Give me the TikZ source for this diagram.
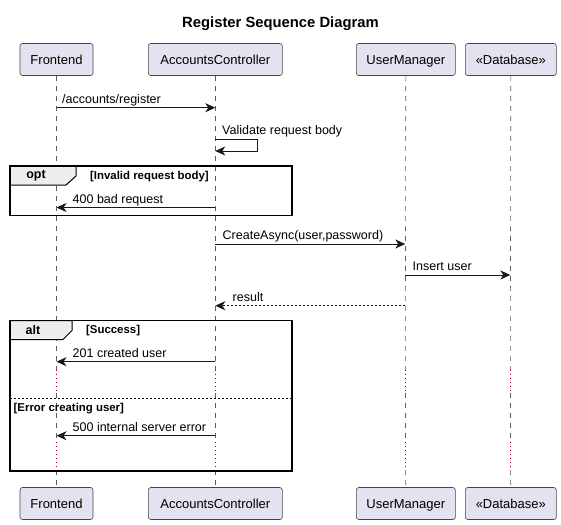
\documentclass[tikz,border=0pt]{standalone}
\usepackage{fontspec}
\setmainfont{Liberation Sans}
\usetikzlibrary{arrows.meta}
\definecolor{partfill}{HTML}{E2E2F0}
\definecolor{ink}{HTML}{181818}
\definecolor{delaycol}{HTML}{A80036}
\definecolor{tabfill}{HTML}{EEEEEE}
\tikzset{
  part/.style={draw=ink!80, fill=partfill, rounded corners=2.5pt, line width=0.6pt,
    minimum height=32pt, inner sep=0pt, text height=11.5pt, text depth=1pt,
    font=\fontsize{13}{15}\selectfont},
  lifeline/.style={draw=ink!70, line width=0.6pt, dash pattern=on 5pt off 5pt},
  delayline/.style={draw=delaycol, line width=0.8pt, dash pattern=on 1pt off 3pt},
  msg/.style={draw=ink, line width=0.9pt, -{Stealth[length=10pt,width=9pt,inset=3pt]}},
  retmsg/.style={msg, dash pattern=on 2pt off 2pt},
  lbl/.style={anchor=base west, inner sep=0pt, font=\fontsize{12.5}{14}\selectfont},
  frame/.style={draw=black, line width=1.5pt},
  tab/.style={draw=black, line width=1pt, fill=tabfill},
  tabtxt/.style={inner sep=0pt, font=\bfseries\fontsize{12.5}{14}\selectfont},
  cond/.style={anchor=base west, inner sep=0pt, font=\bfseries\fontsize{11.4}{13}\selectfont}
}
\begin{document}
\begin{tikzpicture}[x=1pt,y=-1pt]
\useasboundingbox[fill=white] (0,0) rectangle (561,524);

% title
\node[font=\bfseries\fontsize{14.8}{17}\selectfont, inner sep=0pt] (title) at (280.5,24) {Register Sequence Diagram};

% participants
\node[part, minimum width=73pt] (fe) at (56.5,59.5) {Frontend};
\node[part, minimum width=134pt] (ac) at (215.3,59.5) {AccountsController};
\node[part, minimum width=99pt] (um) at (405.8,59.5) {UserManager};
\node[part, minimum width=91pt] (db) at (510.8,59.5) {«Database»};
\node[part, minimum width=73pt] (fe2) at (56.5,503.5) {Frontend};
\node[part, minimum width=134pt] (ac2) at (215.3,503.5) {AccountsController};
\node[part, minimum width=99pt] (um2) at (405.8,503.5) {UserManager};
\node[part, minimum width=91pt] (db2) at (510.8,503.5) {«Database»};

% lifelines with delay segments
\foreach \p/\x in {fe/56.5, ac/215.3, um/405.3, db/510.3}{
  \coordinate (\p-a) at (\x,370);
  \coordinate (\p-b) at (\x,393);
  \coordinate (\p-c) at (\x,442);
  \coordinate (\p-d) at (\x,470);
  \draw[lifeline] (\p.south) -- (\p-a);
  \draw[delayline] (\p-a) -- (\p-b);
  \draw[lifeline] (\p-b) -- (\p-c);
  \draw[delayline] (\p-c) -- (\p-d);
  \draw[lifeline] (\p-d) -- (\p2.north);
}

% message anchor points
\coordinate (m1s) at (56.5,107.7);  \coordinate (m1e) at (215.3,107.7);
\coordinate (s1a) at (215.3,139);   \coordinate (s1b) at (257,139);
\coordinate (s1c) at (257,151);     \coordinate (s1d) at (215.3,151);
\coordinate (m3s) at (215.3,207.5); \coordinate (m3e) at (56.5,207.5);
\coordinate (m4s) at (215.3,244);   \coordinate (m4e) at (405.3,244);
\coordinate (m5s) at (405.3,275);   \coordinate (m5e) at (510.3,275);
\coordinate (m6s) at (405.3,305.7); \coordinate (m6e) at (215.3,305.7);
\coordinate (m7s) at (215.3,361.7); \coordinate (m7e) at (56.5,361.7);
\coordinate (m8s) at (215.3,435.7); \coordinate (m8e) at (56.5,435.7);

% opt frame
\coordinate (optA) at (10,166);
\coordinate (optB) at (292,215.5);
\draw[tab] (10,166) -- (76,166) -- (76,176) -- (66,185) -- (10,185) -- cycle;
\node[tabtxt] (optlbl) at (36,176) {opt};
\node[cond] (optcond) at (90,179.5) {[Invalid request body]};
\draw[frame] (optA) rectangle (optB);

% alt frame
\coordinate (altA) at (10,320.5);
\coordinate (altB) at (292,471);
\draw[tab] (10,320.5) -- (72,320.5) -- (72,330.5) -- (63,339.5) -- (10,339.5) -- cycle;
\node[tabtxt] (altlbl) at (33,330.5) {alt};
\node[cond] (altcond) at (86,333.5) {[Success]};
\coordinate (sepL) at (10,398.5);
\coordinate (sepR) at (292,398.5);
\draw[draw=black, line width=0.8pt, dash pattern=on 2pt off 2pt] (sepL) -- (sepR);
\node[cond] (errcond) at (13.5,411) {[Error creating user]};
\draw[frame] (altA) rectangle (altB);

% messages
\draw[msg] (m1s) -- (m1e);
\node[lbl] (l1) at (62,103.5) {/accounts/register};

\draw[msg] (s1a) -- (s1b) -- (s1c) -- (s1d);
\node[lbl] (l2) at (222,134) {Validate request body};

\draw[msg] (m3s) -- (m3e);
\node[lbl] (l3) at (72.5,203) {400 bad request};

\draw[msg] (m4s) -- (m4e);
\node[lbl] (l4) at (222.5,239.5) {CreateAsync(user,password)};

\draw[msg] (m5s) -- (m5e);
\node[lbl] (l5) at (412.5,270.5) {Insert user};

\draw[retmsg] (m6s) -- (m6e);
\node[lbl] (l6) at (232.5,301) {result};

\draw[msg] (m7s) -- (m7e);
\node[lbl] (l7) at (72.5,357) {201 created user};

\draw[msg] (m8s) -- (m8e);
\node[lbl] (l8) at (72.5,431) {500 internal server error};
\end{tikzpicture}
\end{document}
